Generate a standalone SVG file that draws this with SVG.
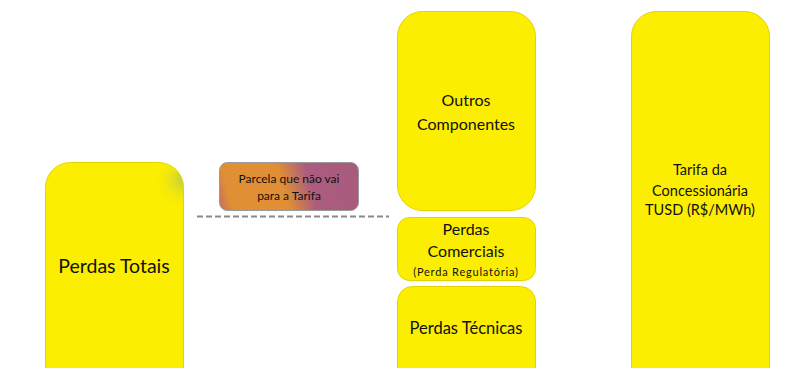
<svg xmlns="http://www.w3.org/2000/svg" width="795" height="368" viewBox="0 0 795 368">
<style>
.box{fill:#FCEE00;stroke:#E3D400;stroke-width:1}
.t{font-family:Lato,"Open Sans","Liberation Sans",sans-serif;fill:#111;text-anchor:middle}
</style>
<defs>
<linearGradient id="pg" x1="215" y1="212" x2="360" y2="172" gradientUnits="userSpaceOnUse">
<stop offset="0" stop-color="#B8607A"/>
<stop offset="0.12" stop-color="#E08F34"/>
<stop offset="0.48" stop-color="#E08F34"/>
<stop offset="0.66" stop-color="#AC5D7E"/>
<stop offset="1" stop-color="#A95B7E"/>
</linearGradient>
<radialGradient id="gr" cx="183" cy="180" r="30" gradientUnits="userSpaceOnUse">
<stop offset="0" stop-color="#B9C94A" stop-opacity="0.9"/>
<stop offset="1" stop-color="#FCEE00" stop-opacity="0"/>
</radialGradient>
</defs>
<rect width="795" height="368" fill="#fff"/>
<g id="connectors">
<line x1="197" y1="216.5" x2="389" y2="216.5" stroke="#8A8A8A" stroke-width="2" stroke-dasharray="6 3"/>
</g>
<g id="perdas-totais">
<rect class="box" x="45.5" y="162.5" width="138" height="230" rx="25"/>
<rect x="45.5" y="162.5" width="138" height="230" rx="25" fill="url(#gr)"/>
<text class="t" x="114" y="273" font-size="19.5">Perdas Totais</text>
</g>
<g id="parcela">
<rect x="219.5" y="162.5" width="139" height="48" rx="8" fill="url(#pg)" stroke="#9A9A9A" stroke-width="1"/>
<text class="t" x="289" y="183" font-size="12">Parcela que não vai</text>
<text class="t" x="289" y="200" font-size="12">para a Tarifa</text>
</g>
<g id="outros">
<rect class="box" x="397.5" y="11.5" width="138" height="199" rx="25"/>
<text class="t" x="466" y="106" font-size="16">Outros</text>
<text class="t" x="466" y="130" font-size="16">Componentes</text>
</g>
<g id="comerciais">
<rect class="box" x="397.5" y="217.5" width="138" height="63" rx="12"/>
<text class="t" x="466" y="235" font-size="16">Perdas</text>
<text class="t" x="466" y="257" font-size="16">Comerciais</text>
<text class="t" x="466" y="276" font-size="11" letter-spacing="0.8">(Perda Regulatória)</text>
</g>
<g id="tecnicas">
<rect class="box" x="397.5" y="286.5" width="138" height="110" rx="15"/>
<text class="t" x="466" y="334" font-size="16.5">Perdas Técnicas</text>
</g>
<g id="tarifa">
<rect class="box" x="631.5" y="11.5" width="138" height="380" rx="25"/>
<text class="t" x="700" y="175" font-size="14.5">Tarifa da</text>
<text class="t" x="700" y="196" font-size="14.5">Concessionária</text>
<text class="t" x="700" y="215" font-size="14.5">TUSD (R$/MWh)</text>
</g>
</svg>
